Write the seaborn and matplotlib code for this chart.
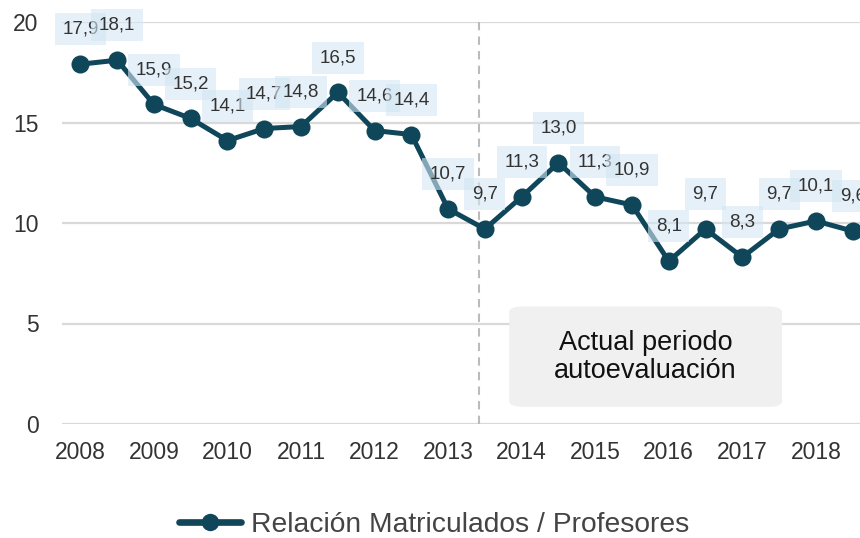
import numpy as np
import pandas as pd
import seaborn as sns
import matplotlib.pyplot as plt
from matplotlib.patches import FancyBboxPatch
from matplotlib.lines import Line2D

# datos
years = [str(y) for y in range(2008, 2019)]
valores = [17.9, 18.1, 15.9, 15.2, 14.1, 14.7, 14.8, 16.5, 14.6, 14.4, 10.7,
           9.7, 11.3, 13.0, 11.3, 10.9, 8.1, 9.7, 8.3, 9.7, 10.1, 9.6]
serie = "Relación Matriculados / Profesores"

df = pd.DataFrame({"idx": np.arange(len(valores)), "valor": valores})

sns.set_theme(style="white")
plt.rcParams['font.family'] = ['Liberation Sans', 'DejaVu Sans']

color = "#0f4659"
fig = plt.figure(figsize=(8.6, 5.38), dpi=100)
ax = fig.add_axes([62 / 860, 1 - 424 / 538, 1 - 62 / 860, (424 - 22) / 538])

sns.lineplot(data=df, x="idx", y="valor", ax=ax, color=color, lw=3.6,
             marker="o", markersize=13, markeredgewidth=0, clip_on=False, zorder=3)

# etiquetas de valores
for i, v in enumerate(valores):
    ax.annotate(f"{v:.1f}".replace(".", ","), (i, v), xytext=(0, 25),
                textcoords="offset points", ha="center", va="center",
                fontsize=13.5, color="#333333", zorder=4,
                bbox=dict(boxstyle="square,pad=0.4", fc="#d4e6f4", ec="none", alpha=0.6))

# linea de periodo
ax.axvline(10.85, color="#bbbbbb", ls=(0, (4, 3)), lw=1.5, zorder=1)

# cuadro de texto
box = FancyBboxPatch((11.66, 0.85), 7.42, 5.0, boxstyle="round,pad=0,rounding_size=0.4",
                     mutation_aspect=20 / 21.7 * 0.75,
                     fc="#f0f0f0", ec="none", zorder=2)
ax.add_patch(box)
ax.text(15.37, 3.35, "Actual periodo\nautoevaluación", ha="center", va="center",
        fontsize=19.5, color="#111111", linespacing=1.1, zorder=3)

ax.set_xlim(-0.5, 21.2)
ax.set_ylim(0, 20)
ax.set_yticks([0, 5, 10, 15, 20])
ax.set_xticks(np.arange(0, len(valores), 2))
ax.set_xticklabels(years)
ax.grid(axis="y", color="#d9d9d9", lw=1.6)
ax.grid(axis="x", visible=False)
ax.set_axisbelow(True)
ax.tick_params(axis="both", length=0, labelsize=16.5, colors="#333333")
ax.tick_params(axis="y", pad=17)
ax.tick_params(axis="x", pad=12)
ax.set_xlabel("")
ax.set_ylabel("")
sns.despine(ax=ax, left=True, bottom=True)

handle = Line2D([0], [0], color=color, lw=4.8, marker="o", markersize=12.5,
                markeredgewidth=0, solid_capstyle="round")
fig.legend([handle], [serie], loc="center", bbox_to_anchor=(0.505, 1 - 525 / 538),
           frameon=False, fontsize=20.3, handlelength=2.2, handletextpad=0.35,
           labelcolor="#444444")

fig.savefig("out.png", dpi=100)
